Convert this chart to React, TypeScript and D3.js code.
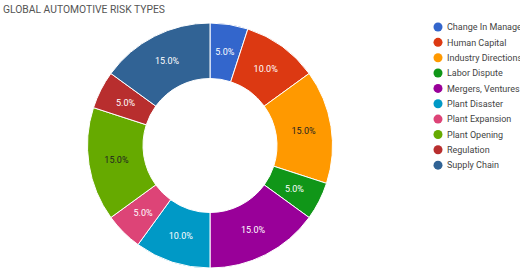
import React from "react";
import * as d3 from "d3";

const categories = [
  "Change In Management",
  "Human Capital",
  "Industry Directions",
  "Labor Dispute",
  "Mergers, Ventures",
  "Plant Disaster",
  "Plant Expansion",
  "Plant Opening",
  "Regulation",
  "Supply Chain",
];
const values = [5, 10, 15, 5, 15, 10, 5, 15, 5, 15];
const colors = [
  "#3366cc",
  "#dc3912",
  "#ff9900",
  "#109618",
  "#990099",
  "#0099c6",
  "#dd4477",
  "#66aa00",
  "#b82e2e",
  "#316395",
];
const darkLabel = [false, false, true, false, false, false, false, true, false, false];
const title = "GLOBAL AUTOMOTIVE RISK TYPES";

export default function App() {
  const W = 520;
  const H = 272;
  const cx = 210;
  const cy = 145.5;
  const outerR = 122.5;
  const innerR = 67;
  const total = d3.sum(values);
  const pie = d3.pie<number>().sort(null).value((d) => d);
  const arcs = pie(values);
  const arc = d3.arc<d3.PieArcDatum<number>>().innerRadius(innerR).outerRadius(outerR);
  const labelArc = d3
    .arc<d3.PieArcDatum<number>>()
    .innerRadius((innerR + outerR) / 2)
    .outerRadius((innerR + outerR) / 2);
  const fmt = d3.format(".1%");
  const font = "Roboto, 'Noto Sans', Arial, sans-serif";

  return (
    <div style={{ position: "absolute", left: 0, top: 0, width: W, height: H, overflow: "hidden", background: "#fff" }}>
      <svg width={W} height={H} style={{ display: "block" }} fontFamily={font}>
        <text x={3} y={12.5} fontSize={10.5} fill="#555" textLength={162} lengthAdjust="spacingAndGlyphs">
          {title}
        </text>
        <g transform={`translate(${cx},${cy})`}>
          {arcs.map((a, i) => (
            <path key={i} d={arc(a) || ""} fill={colors[i]} stroke="#fff" strokeWidth={1} />
          ))}
          {arcs.map((a, i) => {
            const [lx, ly] = labelArc.centroid(a);
            return (
              <text
                key={"l" + i}
                x={lx}
                y={ly}
                dy="0.35em"
                textAnchor="middle"
                fontSize={9}
                fill={darkLabel[i] ? "#222" : "#fff"}
              >
                {fmt(values[i] / total)}
              </text>
            );
          })}
        </g>
        <g>
          {categories.map((c, i) => (
            <g key={c} transform={`translate(438,${27 + i * 15.35})`}>
              <circle r={4.5} fill={colors[i]} />
              <text x={9} dy="0.35em" fontSize={9} fill="#444">
                {c}
              </text>
            </g>
          ))}
        </g>
      </svg>
    </div>
  );
}
